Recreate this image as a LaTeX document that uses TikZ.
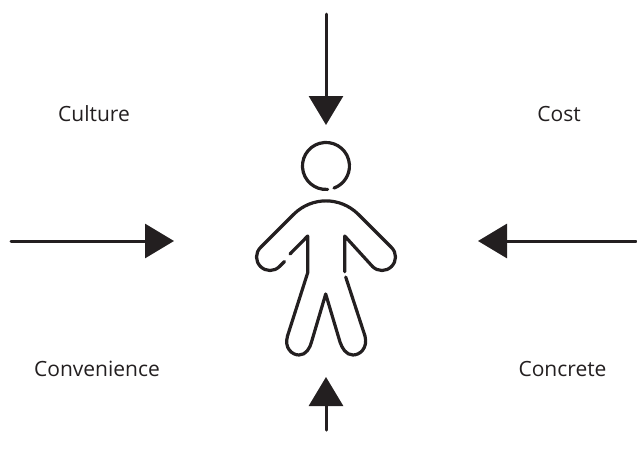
\documentclass[tikz,border=0pt]{standalone}
\usepackage{fontspec}
\setmainfont{Open Sans}
\usetikzlibrary{arrows.meta}
\definecolor{ink}{HTML}{231F20}
\tikzset{
  lbl/.style={text=ink,font=\fontsize{21}{24}\selectfont,inner sep=0pt},
  arr/.style={draw=ink,line width=3pt,line cap=round,-{Triangle[length=29pt,width=34pt]}},
  fig/.style={draw=ink,line width=3.2pt,line cap=round,line join=round}
}
\begin{document}
\begin{tikzpicture}[x=1pt,y=-1pt]
\useasboundingbox (0,0) rectangle (637,459);
\node[lbl] (culture) at (94,114) {Culture};
\node[lbl] (cost) at (559,114) {Cost};
\node[lbl] (convenience) at (97,369) {Convenience};
\node[lbl] (concrete) at (562.5,369) {Concrete};
\coordinate (ts) at (326,14); \coordinate (te) at (326,125);
\coordinate (ls) at (11,241); \coordinate (le) at (174,241);
\coordinate (rs) at (636,241); \coordinate (re) at (478,241);
\coordinate (bs) at (326,430); \coordinate (be) at (326,377);
\draw[arr] (ts) -- (te);
\draw[arr] (ls) -- (le);
\draw[arr] (rs) -- (re);
\draw[arr] (bs) -- (be);
% head
\draw[fig] (327.6,189.4) arc[start angle=86,end angle=430,radius=23.5];
% body
\draw[fig] (284.5,261.5) -- (279.5,266.5)
  .. controls (274.2,271.8) and (265.8,271.8) .. (260.5,266.5)
  .. controls (255.2,261.2) and (255.2,252.8) .. (260.5,247.5)
  -- (294,214) .. controls (312,196.5) and (340,196.5) .. (358,214)
  -- (391.5,247.5) .. controls (396.8,252.8) and (396.8,261.2) .. (391.5,266.5)
  .. controls (386.2,271.8) and (377.8,271.8) .. (372.5,266.5)
  -- (344.7,236) -- (344.7,271.7);
\draw[fig] (290,254) -- (307.7,236) -- (307.7,272.7) -- (287.5,336)
  .. controls (284,348) and (292,355) .. (299,355)
  .. controls (306,355) and (310,348) .. (311.5,342)
  -- (325.7,294) -- (340,342)
  .. controls (342,348) and (346,355) .. (353,355)
  .. controls (360,355) and (368,348) .. (365,336)
  -- (345.7,277);
\end{tikzpicture}
\end{document}
